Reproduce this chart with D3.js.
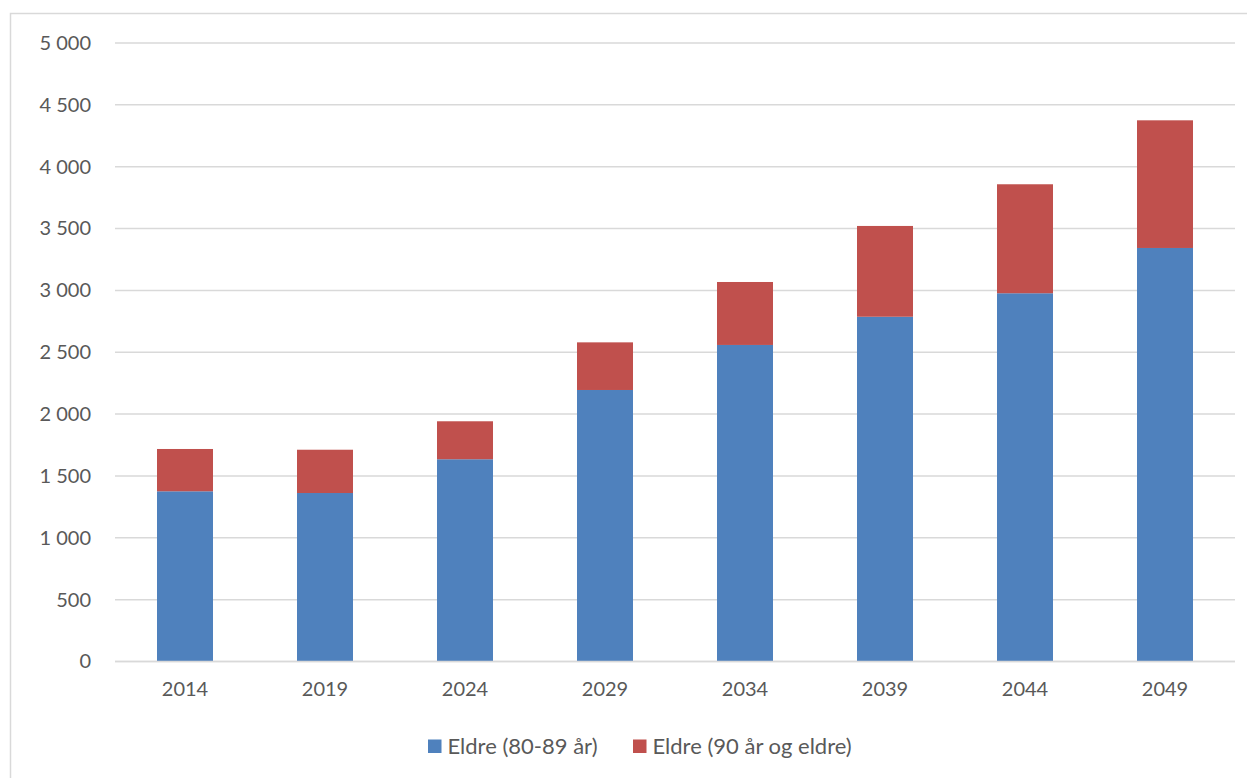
<!DOCTYPE html>
<html><head><meta charset="utf-8">
<script src="https://cdn.jsdelivr.net/npm/d3@7"></script>
<style>
html,body{margin:0;padding:0;background:#fff;}
svg{display:block;}
text{font-family:Lato,"Open Sans",sans-serif;fill:#595959;}
</style></head>
<body>
<svg id="chart" width="1247" height="778"></svg>
<script>
const years = ["2014","2019","2024","2029","2034","2039","2044","2049"];
const seriesNames = ["Eldre (80-89 år)", "Eldre (90 år og eldre)"];
const eldre8089 = [1376, 1362, 1635, 2195, 2559, 2787, 2977, 3343];
const eldre90 = [342, 350, 307, 385, 509, 734, 881, 1032];
const yTicks = [0, 500, 1000, 1500, 2000, 2500, 3000, 3500, 4000, 4500, 5000];
const colors = ["#4f81bd", "#c0504d"];

const svg = d3.select("#chart");
const W = 1247, H = 778;
const m = {left:115, right:12, top:43, bottom:116.5};

// outer chart border
svg.append("rect").attr("x",10.5).attr("y",13.5).attr("width",W).attr("height",H)
  .attr("fill","none").attr("stroke","#d9d9d9").attr("stroke-width",1.5);

const x = d3.scaleBand().domain(years).range([m.left, W - m.right]).paddingInner(0.6).paddingOuter(0.3);
const y = d3.scaleLinear().domain([0, 5000]).range([H - m.bottom, m.top]);

// gridlines
svg.append("g").selectAll("line").data(yTicks).join("line")
  .attr("x1", m.left).attr("x2", W - m.right)
  .attr("y1", d => y(d)).attr("y2", d => y(d))
  .attr("stroke", "#d9d9d9").attr("stroke-width", 1.5);

// y axis labels
const fmt = v => d3.format(",")(v).replace(/,/g, "\u00a0");
const yAxis = d3.axisLeft(y).tickValues(yTicks).tickSize(0).tickPadding(24).tickFormat(fmt);
const yg = svg.append("g").attr("transform", `translate(${m.left},0)`).call(yAxis);
yg.select(".domain").remove();
yg.selectAll("text").attr("font-size", 20).style("font-family","Lato,sans-serif").attr("fill","#595959");

// stacked data
const rows = years.map((yr, i) => ({year: yr, a: eldre8089[i], b: eldre90[i]}));
const stack = d3.stack().keys(["a","b"])(rows);

svg.append("g").selectAll("g").data(stack).join("g")
  .attr("fill", (d, i) => colors[i])
  .selectAll("rect").data(d => d).join("rect")
  .attr("x", d => x(d.data.year))
  .attr("width", x.bandwidth())
  .attr("y", d => y(d[1]))
  .attr("height", d => y(d[0]) - y(d[1]));

// x axis baseline
svg.append("line").attr("x1", m.left).attr("x2", W - m.right)
  .attr("y1", y(0)).attr("y2", y(0)).attr("stroke", "#d9d9d9").attr("stroke-width", 1.5);

const xAxis = d3.axisBottom(x).tickSize(0).tickPadding(20);
const xg = svg.append("g").attr("transform", `translate(0,${y(0)})`).call(xAxis);
xg.select(".domain").remove();
xg.selectAll("text").attr("font-size", 20).style("font-family","Lato,sans-serif").attr("fill","#595959");

// legend
const legend = svg.append("g");
const legX = [428, 633];
seriesNames.forEach((name, i) => {
  const g = legend.append("g").attr("transform", `translate(${legX[i]},739.5)`);
  g.append("rect").attr("width", 13.5).attr("height", 13.5).attr("fill", colors[i]);
  g.append("text").attr("x", 19.5).attr("y", 6.75).attr("dy", "0.35em")
    .attr("font-size", 22).text(name);
});
</script>
</body></html>
